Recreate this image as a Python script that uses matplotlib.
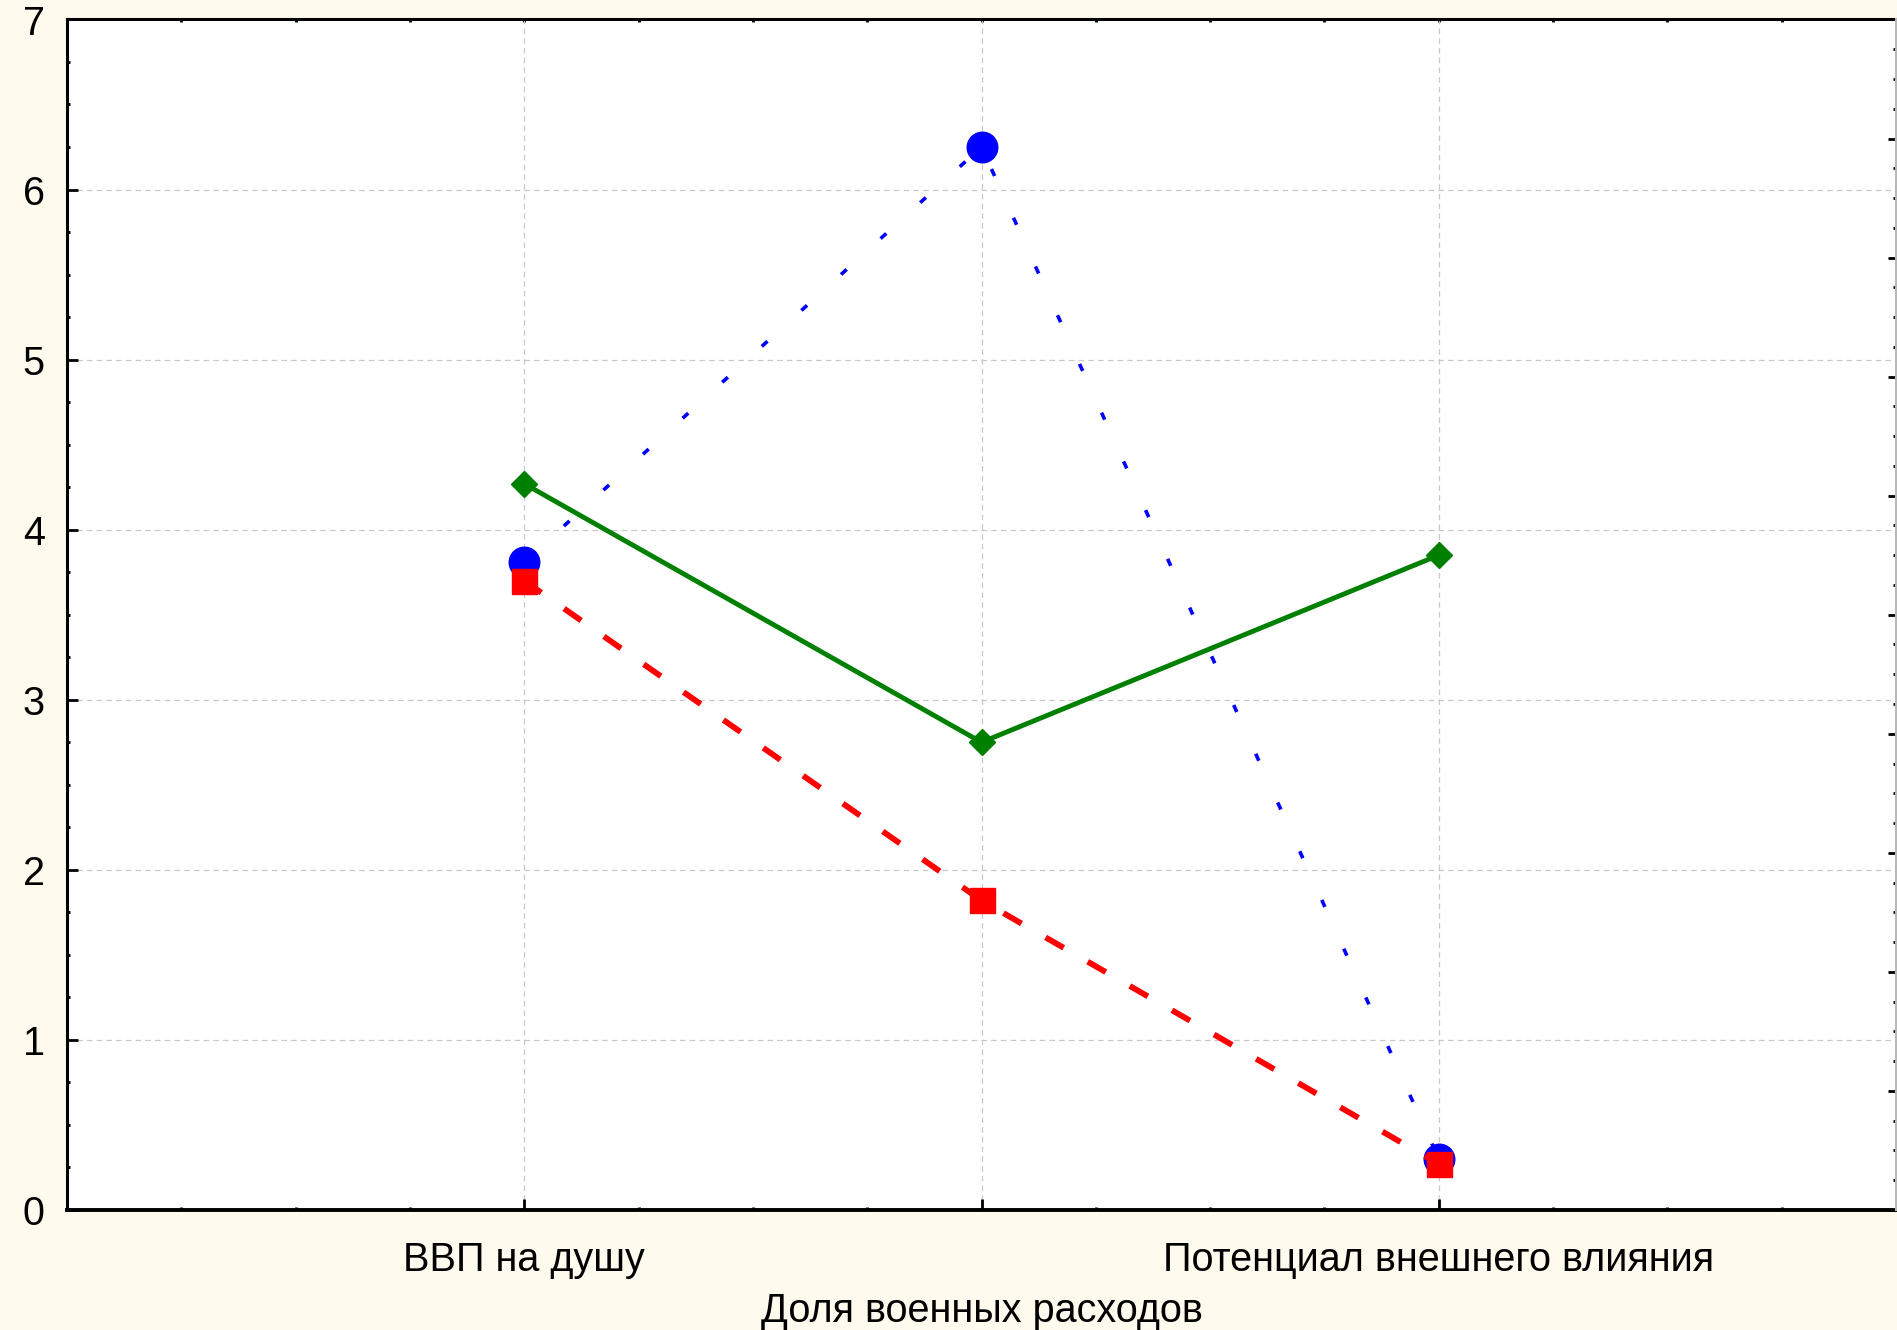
import matplotlib
matplotlib.use('Agg')
import matplotlib.pyplot as plt
from matplotlib.ticker import MultipleLocator, AutoMinorLocator
import numpy as np

plt.rcParams['font.family'] = ['Liberation Sans', 'DejaVu Sans']
plt.rcParams['lines.scale_dashes'] = False

categories = ['ВВП на душу', 'Доля военных расходов', 'Потенциал внешнего влияния']
blue_vals = [3.81, 6.25, 0.30]
red_vals = [3.70, 1.82, 0.27]
green_vals = [4.27, 2.75, 3.85]

bg = '#fefaee'
fig = plt.figure(figsize=(18.97, 13.305), dpi=100, facecolor=bg)
ax = fig.add_axes([0.0353, 0.0902, 0.9642, 0.8948])
ax.set_facecolor('white')

x = np.arange(len(categories))
ax.plot(x, blue_vals, color='#0000ff', lw=2.6, linestyle=(0, (5.5, 33)),
        marker='o', ms=22, mec='#0000ff', zorder=3)
ax.plot(x, red_vals, color='#ff0000', lw=4.2, linestyle=(0, (15, 20)),
        marker='s', ms=18, mec='#ff0000', zorder=4)
ax.plot(x, green_vals, color='#008000', lw=3.5, linestyle='-',
        marker='D', ms=13.5, mec='#008000', zorder=5)

ax.set_xlim(-1, 3)
ax.set_ylim(0, 7)
ax.set_xticks(x)
labels = [categories[0], '\n' + categories[1], categories[2]]
ax.set_xticklabels(labels, linespacing=1.42)
ax.xaxis.set_minor_locator(MultipleLocator(0.25))
ax.yaxis.set_major_locator(MultipleLocator(1))
ax.yaxis.set_minor_locator(MultipleLocator(0.25))

ax.grid(True, which='major', color='#c8c8c8', linestyle=(0, (4, 3)), lw=0.9)
ax.tick_params(axis='both', which='major', direction='in', length=8, width=2,
               labelsize=28.5, color='black')
ax.tick_params(axis='both', which='minor', direction='in', length=2.4, width=2)
ax.tick_params(axis='y', pad=16)
ax.tick_params(axis='x', pad=22)
ax.tick_params(right=False, top=False, which='both')

for s in ['left', 'top']:
    ax.spines[s].set_linewidth(2.2)
ax.spines['bottom'].set_linewidth(2.8)
ax.spines['right'].set_visible(False)

# top ticks, all short
top = ax.secondary_xaxis('top')
top.set_xticks(np.arange(-1, 3.01, 0.25))
top.tick_params(direction='in', length=2.4, width=2, labeltop=False)
top.spines['top'].set_visible(False)

# right axis with its own scale, no labels
ax2 = ax.twinx()
ax2.set_ylim(0, 10)
ax2.yaxis.set_major_locator(MultipleLocator(1))
ax2.yaxis.set_minor_locator(AutoMinorLocator(4))
ax2.tick_params(axis='y', which='major', direction='in', length=5.5, width=2, labelright=False)
ax2.tick_params(axis='y', which='minor', direction='in', length=2, width=2)
for s in ['left', 'top', 'bottom']:
    ax2.spines[s].set_visible(False)
ax2.spines['right'].set_color('#b8b8b8')
ax2.spines['right'].set_linewidth(1.5)

fig.savefig('out.png', dpi=100, facecolor=bg)
